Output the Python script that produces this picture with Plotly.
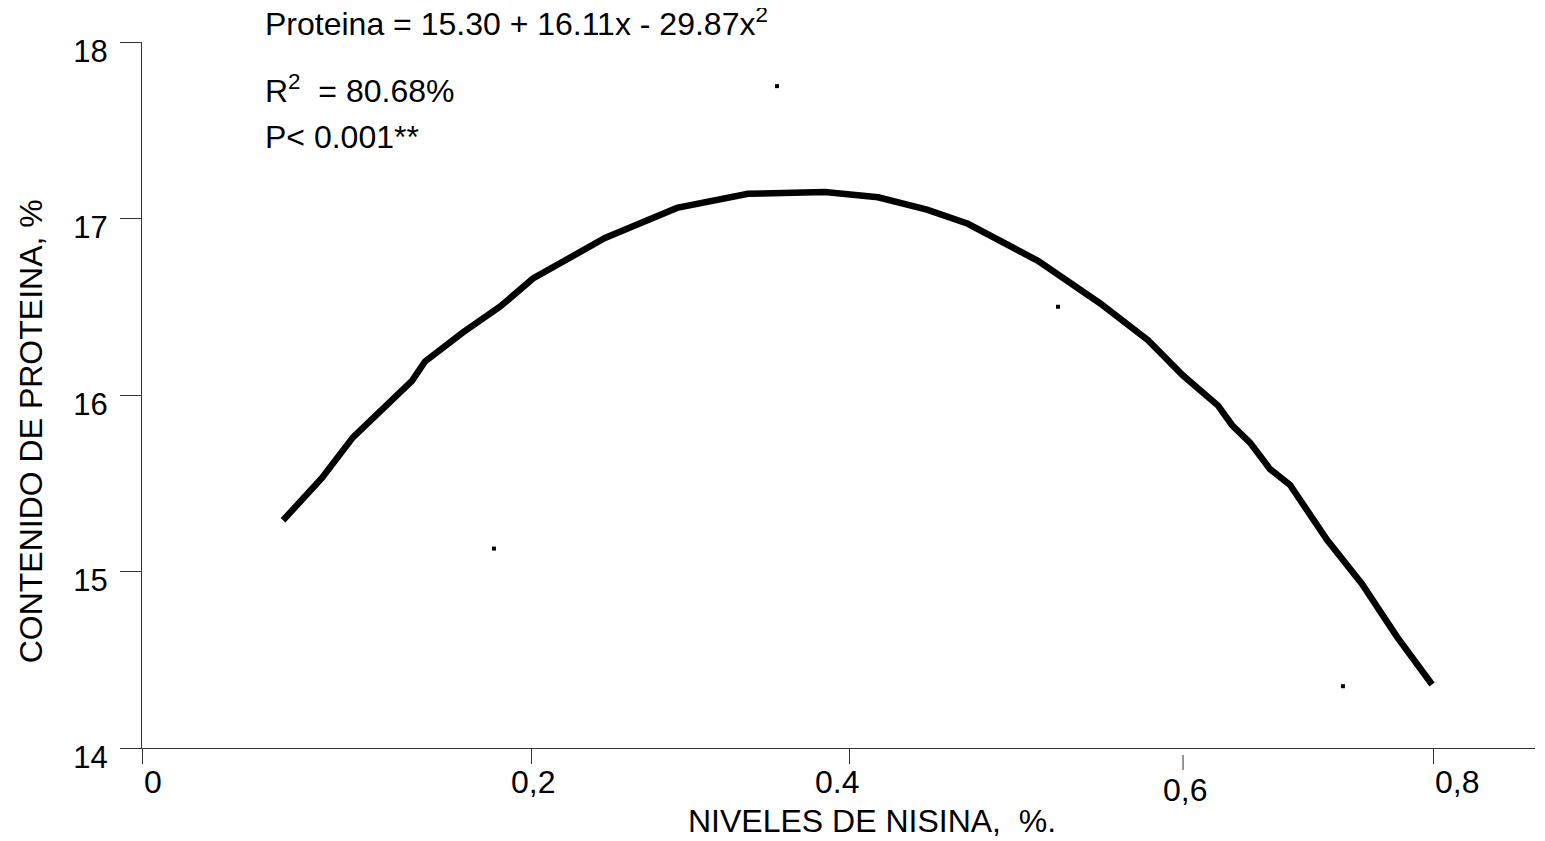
import plotly.graph_objects as go

# ---- data ----
curve_x = [0.0874, 0.1115, 0.1307, 0.1549, 0.1673, 0.1754, 0.1989, 0.2218, 0.2423,
           0.2869, 0.3315, 0.3755, 0.4015, 0.4232, 0.4561, 0.4864, 0.5118, 0.5552,
           0.5936, 0.6234, 0.6451, 0.6668, 0.6754, 0.6866, 0.6990, 0.7114, 0.7343,
           0.7560, 0.7777, 0.7994]
curve_y = [15.29, 15.53, 15.76, 15.98, 16.08, 16.19, 16.355, 16.50, 16.66,
           16.89, 17.06, 17.14, 17.15, 17.15, 17.12, 17.05, 16.97, 16.76,
           16.52, 16.31, 16.11, 15.94, 15.83, 15.73, 15.58, 15.49, 15.18,
           14.93, 14.63, 14.36]

point_x = [0.2181, 0.3935, 0.5676, 0.7442]
point_y = [15.13, 17.75, 16.50, 14.35]

x_tick_vals = [0.0, 0.2411, 0.4387, 0.8]
x_tick6_val = 0.6451
x_label_text = ["0", "0,2", "0.4", "0,6", "0,8"]
x_label_pos = [0.0, 0.2423, 0.4307, 0.6463, 0.8]
x_label_anchor = ["left", "center", "center", "center", "left"]
x_label_y = [-0.048, -0.048, -0.048, -0.059, -0.048]

y_tick_vals = [14, 15, 16, 17, 18]
y_tick_text = ["14", "15", "16", "17", "18"]

eq_lines = ["Proteina = 15.30 + 16.11x - 29.87x<sup>2</sup>",
            "R<sup>2</sup>&nbsp; = 80.68%",
            "P< 0.001**"]
eq_y = [1.0277, 0.933, 0.866]

FONT = "Liberation Sans, Arial, sans-serif"
AX = "#333333"

fig = go.Figure()
fig.add_trace(go.Scatter(x=curve_x, y=curve_y, mode="lines",
                         line=dict(color="black", width=6.5), hoverinfo="skip"))
fig.add_trace(go.Scatter(x=point_x, y=point_y, mode="markers",
                         marker=dict(symbol="square", size=4, color="black",
                                     line=dict(width=0))))

annotations = []
for t, xp, anc, yp in zip(x_label_text, x_label_pos, x_label_anchor, x_label_y):
    annotations.append(dict(text=t, x=xp, xref="x", y=yp, yref="paper",
                            xanchor=anc, yanchor="middle", showarrow=False,
                            font=dict(family=FONT, size=32, color="black")))
for t, yp in zip(eq_lines, eq_y):
    annotations.append(dict(text=t, x=0.0874, xref="paper", y=yp, yref="paper",
                            xanchor="left", yanchor="middle", showarrow=False,
                            borderpad=0,
                            font=dict(family=FONT, size=32, color="black")))
annotations.append(dict(text="NIVELES DE NISINA,&nbsp; %.", x=0.4524, xref="x",
                        y=-0.1033, yref="paper", xanchor="center", yanchor="middle",
                        showarrow=False, borderpad=0,
                        font=dict(family=FONT, size=32, color="black")))
annotations.append(dict(text="CONTENIDO DE PROTEINA, %", x=-0.0796, xref="paper",
                        y=0.4487, yref="paper", xanchor="center", yanchor="middle",
                        textangle=-90, showarrow=False,
                        font=dict(family=FONT, size=32, color="black")))

# the page body adds an 8 px margin, so the figure is sized/offset to compensate
fig.update_layout(
    width=1537, height=833,
    margin=dict(l=134, r=10, t=33.5, b=93),
    paper_bgcolor="white", plot_bgcolor="white",
    showlegend=False,
    annotations=annotations,
    shapes=[dict(type="line", xref="x", yref="paper", x0=x_tick6_val, x1=x_tick6_val,
                 y0=-0.0099, y1=-0.0311, line=dict(color=AX, width=1))],
    xaxis=dict(range=[0, 0.8632], showgrid=False, zeroline=False,
               showline=True, linecolor=AX, linewidth=1,
               ticks="outside", ticklen=15, tickwidth=1, tickcolor=AX,
               tickvals=x_tick_vals, showticklabels=False),
    yaxis=dict(range=[14, 18], showgrid=False, zeroline=False,
               showline=True, linecolor=AX, linewidth=1,
               ticks="outside", ticklen=21, tickwidth=1, tickcolor=AX,
               tickvals=y_tick_vals, ticktext=y_tick_text,
               ticklabelstandoff=6, ticklabelshift=9,
               tickfont=dict(family=FONT, size=31, color="black")),
)

fig.write_html("out.html")
